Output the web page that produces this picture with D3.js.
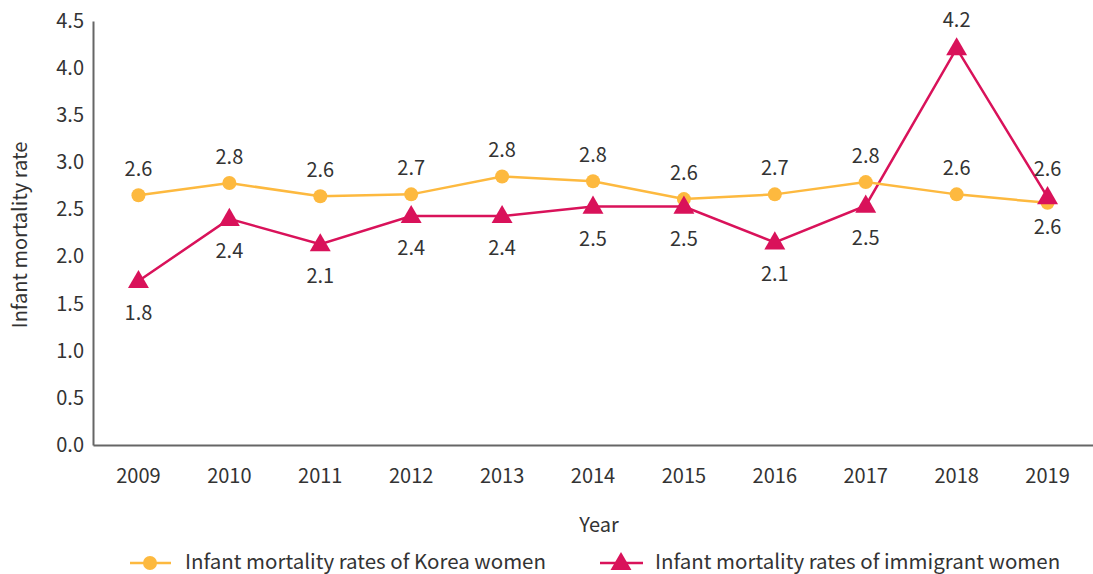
<!DOCTYPE html>
<meta charset="utf-8">
<script src="https://d3js.org/d3.v7.min.js"></script>
<style>
  body { margin: 0; background: #fff; }
  text { font-family: "Noto Sans CJK KR", "Noto Sans", sans-serif; fill: #333; }
</style>
<div id="chart"></div>
<script>

// data
var years = ["2009", "2010", "2011", "2012", "2013", "2014", "2015", "2016", "2017", "2018", "2019"];
var koreaValues = [2.65, 2.78, 2.64, 2.66, 2.85, 2.80, 2.61, 2.66, 2.79, 2.66, 2.57];
var koreaLabels = ["2.6", "2.8", "2.6", "2.7", "2.8", "2.8", "2.6", "2.7", "2.8", "2.6", "2.6"];
var immigrantValues = [1.74, 2.40, 2.13, 2.43, 2.43, 2.53, 2.53, 2.15, 2.54, 4.21, 2.63];
var immigrantLabels = ["1.8", "2.4", "2.1", "2.4", "2.4", "2.5", "2.5", "2.1", "2.5", "4.2", "2.6"];
var yTicks = [0, 0.5, 1, 1.5, 2, 2.5, 3, 3.5, 4, 4.5];

var W = 1093, H = 574;
var margin = {top: 21, right: 0, bottom: 129, left: 93},
    width = W - margin.left - margin.right,
    height = H - margin.top - margin.bottom;

var korea = "#fdb93f", immig = "#d9125a";

var svg = d3.select("#chart").append("svg")
    .attr("width", W).attr("height", H);
var g = svg.append("g")
    .attr("transform", "translate(" + margin.left + "," + margin.top + ")");

var x = d3.scaleBand().domain(years).range([0, width]);
var y = d3.scaleLinear().domain([0, 4.5]).range([height, 0]);
var cx = function(i) { return x(years[i]) + x.bandwidth() / 2; };

// axes
var yAxis = g.append("g")
    .call(d3.axisLeft(y).tickValues(yTicks).tickFormat(d3.format(".1f")).tickSize(0).tickPadding(9));
var xAxis = g.append("g")
    .attr("transform", "translate(0," + height + ")")
    .call(d3.axisBottom(x).tickSize(0).tickPadding(24));
[xAxis, yAxis].forEach(function(a) {
  a.select(".domain").attr("stroke", "#666").attr("stroke-width", 2);
  a.selectAll("text").style("font-size", "20px").style("font-family", "\"Noto Sans CJK KR\", sans-serif").attr("fill", "#333");
});

svg.append("text")
    .attr("transform", "translate(27," + (margin.top + height / 2 + 2) + ") rotate(-90)")
    .attr("text-anchor", "middle")
    .style("font-size", "20px")
    .text("Infant mortality rate");
svg.append("text")
    .attr("x", 599).attr("y", 532)
    .attr("text-anchor", "middle")
    .style("font-size", "20px")
    .text("Year");

var line = d3.line()
    .x(function(d, i) { return cx(i); })
    .y(function(d) { return y(d); });

var tri = d3.symbol().type(d3.symbolTriangle).size(190);

// immigrant series
g.append("path").datum(immigrantValues)
    .attr("d", line).attr("fill", "none")
    .attr("stroke", immig).attr("stroke-width", 2.5);

// korea series
g.append("path").datum(koreaValues)
    .attr("d", line).attr("fill", "none")
    .attr("stroke", korea).attr("stroke-width", 2.5);
g.selectAll(".kdot").data(koreaValues).enter().append("circle")
    .attr("cx", function(d, i) { return cx(i); })
    .attr("cy", function(d) { return y(d); })
    .attr("r", 7).attr("fill", korea);

g.selectAll(".itri").data(immigrantValues).enter().append("path")
    .attr("d", tri)
    .attr("transform", function(d, i) { return "translate(" + cx(i) + "," + (y(d) + 1) + ")"; })
    .attr("fill", immig);

// value labels: korea above unless the immigrant point sits just over it
var koreaBelow = function(d, i) {
  var diff = immigrantValues[i] - d;
  return diff > 0 && diff < 0.5;
};
g.selectAll(".klab").data(koreaValues).enter().append("text")
    .attr("x", function(d, i) { return cx(i); })
    .attr("y", function(d, i) { return koreaBelow(d, i) ? y(d) + 31 : y(d) - 19; })
    .attr("text-anchor", "middle")
    .style("font-size", "20px")
    .text(function(d, i) { return koreaLabels[i]; });
g.selectAll(".ilab").data(immigrantValues).enter().append("text")
    .attr("x", function(d, i) { return cx(i); })
    .attr("y", function(d, i) { return d > koreaValues[i] ? y(d) - 21 : y(d) + 39; })
    .attr("text-anchor", "middle")
    .style("font-size", "20px")
    .text(function(d, i) { return immigrantLabels[i]; });

// legend
var leg = svg.append("g").attr("transform", "translate(0,563)");
leg.append("line").attr("x1", 130).attr("x2", 171).attr("stroke", korea).attr("stroke-width", 2.5);
leg.append("circle").attr("cx", 150).attr("r", 7).attr("fill", korea);
leg.append("text").attr("x", 185).attr("y", 6).style("font-size", "20.5px")
    .text("Infant mortality rates of Korea women");
leg.append("line").attr("x1", 600).attr("x2", 643).attr("stroke", immig).attr("stroke-width", 2.5);
leg.append("path").attr("d", tri).attr("transform", "translate(621,1)").attr("fill", immig);
leg.append("text").attr("x", 655).attr("y", 6).style("font-size", "20.5px")
    .text("Infant mortality rates of immigrant women");

</script>
